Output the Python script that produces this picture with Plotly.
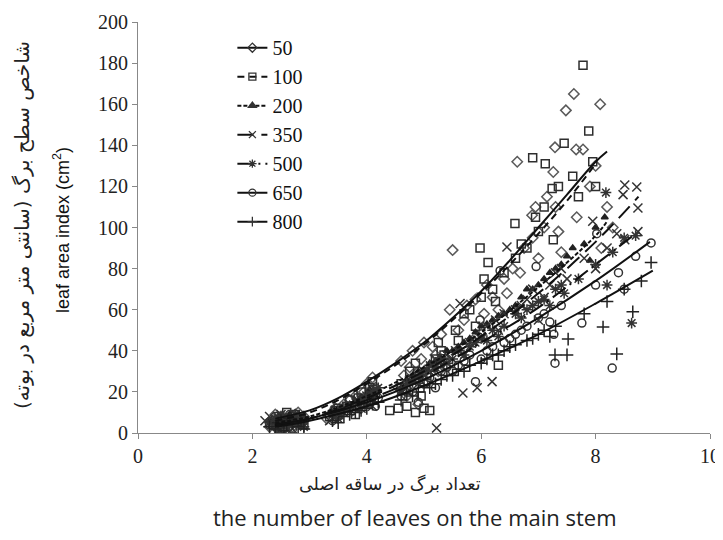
import plotly.graph_objects as go

# ---------------- data ----------------
series_names = ["50", "100", "200", "350", "500", "650", "800"]

# observed points (x = leaves on main stem, y = leaf area index)
pts_50 = [(2.35, 5), (2.5, 8), (2.6, 4), (2.75, 9), (2.85, 6), (2.45, 2), (2.3, 3), (2.4, 9),
          (2.55, 6), (2.65, 7), (2.7, 3), (2.9, 8), (2.8, 10),
          (3.4, 10), (3.6, 14), (3.8, 18), (4.0, 24), (4.1, 27), (3.9, 12), (3.5, 8), (3.3, 7),
          (3.45, 12), (3.7, 16), (3.75, 11), (3.95, 20), (4.05, 15), (4.15, 22),
          (4.6, 35), (4.8, 40), (4.9, 30), (5.0, 44), (5.2, 38), (5.3, 48), (4.7, 18), (4.9, 14),
          (4.55, 22), (4.65, 28), (4.75, 32), (4.95, 36), (5.05, 25), (5.15, 42), (5.25, 30), (5.35, 35),
          (5.5, 89), (5.45, 60), (5.7, 55), (5.9, 65), (6.1, 72), (6.3, 60), (6.0, 48),
          (5.6, 50), (5.75, 62), (5.85, 45), (6.05, 58), (6.2, 66), (6.4, 75), (6.45, 68),
          (6.63, 132), (6.89, 106), (6.68, 78), (6.9, 95), (7.1, 100), (7.3, 110), (7.0, 85),
          (7.4, 88), (7.26, 127), (7.29, 139), (6.55, 80), (6.75, 90), (6.95, 110), (7.15, 115), (7.35, 98),
          (7.48, 157), (7.62, 165), (8.08, 160), (7.66, 138), (7.78, 138), (7.67, 105), (8.2, 110),
          (7.9, 120), (8.1, 90), (8.3, 100), (8.0, 130)]

pts_100 = [(2.4, 6), (2.55, 3), (2.7, 8), (2.8, 5), (2.6, 10), (2.35, 4), (2.45, 8), (2.5, 2),
           (2.65, 6), (2.75, 9), (2.9, 4), (2.85, 7),
           (3.5, 12), (3.7, 16), (3.9, 20), (4.05, 22), (3.8, 9), (3.35, 8), (3.45, 11), (3.65, 13),
           (3.85, 17), (3.95, 14), (4.1, 25), (4.15, 19),
           (4.4, 11), (4.55, 12), (4.7, 13), (4.85, 10), (5.0, 12), (5.1, 11), (4.9, 26), (5.2, 36),
           (5.3, 40), (4.95, 18), (4.6, 24), (4.75, 30), (4.85, 34), (5.05, 28), (5.15, 32),
           (5.25, 44), (5.35, 38),
           (5.98, 90), (6.12, 83), (6.3, 33), (5.8, 60), (6.0, 66), (6.2, 70), (5.6, 45),
           (5.55, 50), (5.7, 58), (5.9, 52), (6.05, 75), (6.25, 64), (6.4, 78),
           (6.59, 102), (6.9, 134), (7.12, 131), (7.24, 119), (7.26, 94), (7.45, 141), (6.8, 90),
           (7.0, 98), (6.6, 85), (6.7, 92), (6.95, 105), (7.1, 110), (7.35, 120),
           (7.6, 125), (7.78, 179), (7.88, 147), (7.95, 132), (8.0, 120), (7.7, 115)]

pts_200 = [(2.4, 5), (2.6, 7), (2.8, 4), (2.5, 3), (2.3, 6), (2.45, 8), (2.55, 4), (2.65, 9),
           (2.75, 6), (2.85, 5), (2.9, 8),
           (3.5, 10), (3.8, 15), (4.0, 19), (4.1, 16), (3.4, 9), (3.55, 12), (3.7, 14), (3.9, 17),
           (4.05, 21), (4.15, 18),
           (4.7, 26), (4.9, 30), (5.1, 34), (5.3, 36), (4.6, 22), (4.8, 28), (5.0, 31), (5.2, 35),
           (5.4, 40),
           (5.6, 42), (5.8, 46), (6.0, 52), (6.2, 55), (6.4, 58), (5.5, 40), (5.7, 44), (5.9, 49),
           (6.1, 53), (6.3, 57), (6.5, 60),
           (6.6, 62), (6.8, 70), (7.0, 72), (7.2, 78), (7.4, 82), (6.7, 66), (6.9, 70), (7.1, 75),
           (7.3, 80), (7.5, 86),
           (7.6, 90), (7.8, 92), (8.0, 100), (8.16, 105), (7.9, 84)]

pts_350 = [(2.22, 6), (2.4, 4), (2.6, 7), (2.8, 5), (2.3, 8), (2.45, 3), (2.5, 9), (2.65, 5),
           (2.7, 2), (2.85, 8), (2.9, 4),
           (3.5, 9), (3.7, 14), (4.0, 18), (4.1, 13), (3.35, 6), (3.45, 11), (3.6, 10), (3.8, 16),
           (3.9, 12), (4.15, 21),
           (4.7, 22), (5.0, 28), (5.22, 2.4), (5.3, 33), (4.6, 20), (4.8, 26), (4.9, 24), (5.1, 30),
           (5.2, 36), (5.4, 38),
           (5.63, 63), (5.68, 19.5), (5.93, 22), (6.19, 25), (6.45, 90.5), (6.0, 47), (6.3, 50),
           (5.55, 40), (5.8, 44), (6.1, 52), (6.25, 55), (6.4, 58),
           (6.7, 62), (6.9, 70), (7.1, 66), (7.3, 78), (7.5, 75), (7.0, 55), (6.6, 60), (6.8, 65),
           (7.2, 72), (7.4, 80),
           (7.95, 103), (8.37, 97), (8.48, 116), (8.51, 120.7), (8.72, 119.7), (8.74, 109.5),
           (8.74, 98), (8.51, 94), (8.2, 90), (8.0, 80), (7.8, 85)]

pts_500 = [(2.5, 4), (2.7, 6), (2.4, 7), (2.3, 5), (2.45, 2), (2.55, 8), (2.65, 4), (2.75, 9),
           (2.85, 6), (2.9, 3),
           (3.6, 12), (3.9, 16), (4.1, 20), (3.4, 9), (3.5, 7), (3.7, 13), (3.8, 15), (4.0, 18),
           (4.2, 22),
           (4.8, 25), (5.0, 30), (5.2, 32), (4.6, 21), (4.7, 24), (4.9, 27), (5.1, 33), (5.3, 36),
           (5.4, 34),
           (5.7, 38), (5.9, 44), (6.1, 45), (6.4, 52), (5.5, 36), (5.6, 40), (5.8, 42), (6.0, 46),
           (6.2, 50), (6.3, 47),
           (6.6, 58), (6.9, 62), (7.1, 65), (7.3, 70), (7.45, 68), (6.7, 56), (6.8, 60), (7.0, 64),
           (7.2, 62), (7.4, 72),
           (7.7, 75), (8.0, 82), (8.18, 117), (8.3, 88), (8.5, 95), (8.63, 53.5), (8.7, 96), (8.2, 72)]

pts_650 = [(2.4, 3), (2.6, 5), (2.8, 7), (2.7, 2), (2.3, 4), (2.45, 6), (2.5, 8), (2.55, 2),
           (2.65, 9), (2.75, 5), (2.9, 6),
           (3.5, 8), (3.8, 13), (4.0, 15), (4.2, 17), (3.4, 6), (3.6, 10), (3.7, 12), (3.9, 14),
           (4.1, 18), (4.15, 13),
           (4.8, 20), (5.0, 24), (5.3, 30), (4.9, 15), (4.6, 18), (4.7, 21), (4.85, 26), (5.1, 27),
           (5.2, 22), (5.4, 32),
           (5.9, 25), (5.98, 55), (6.33, 79), (5.7, 35), (6.1, 40), (6.4, 44), (5.5, 30), (5.6, 33),
           (5.8, 38), (6.0, 36), (6.2, 42), (6.5, 46),
           (6.96, 81), (7.27, 48), (7.29, 34), (6.7, 50), (7.0, 56), (7.4, 62), (6.6, 48), (6.8, 52),
           (7.1, 58), (7.2, 54),
           (7.76, 53.5), (8.02, 97), (8.29, 31.6), (8.97, 92.5), (8.0, 72), (8.4, 78), (8.7, 86),
           (8.5, 70)]

pts_800 = [(2.4, 2), (2.6, 4), (2.8, 3), (2.5, 6), (2.3, 3), (2.45, 5), (2.55, 1), (2.65, 7),
           (2.7, 5), (2.85, 6), (2.9, 2),
           (3.6, 8), (3.9, 11), (4.1, 14), (3.4, 6), (3.5, 5), (3.7, 9), (3.8, 10), (4.0, 12),
           (4.2, 15),
           (4.8, 18), (5.1, 22), (5.3, 26), (4.6, 16), (4.7, 19), (4.9, 20), (5.0, 23), (5.2, 24),
           (5.4, 28),
           (5.7, 30), (6.0, 34), (6.3, 38), (6.5, 42), (5.5, 28), (5.6, 31), (5.8, 33), (6.1, 36),
           (6.2, 38), (6.4, 40),
           (6.8, 45), (7.0, 48), (7.29, 38), (7.5, 38), (7.52, 45.7), (7.3, 52), (6.6, 43),
           (6.9, 46), (7.1, 50), (7.2, 47),
           (7.8, 58), (8.13, 51.6), (8.37, 38.5), (8.65, 59), (8.97, 83), (8.5, 70), (8.8, 74),
           (8.2, 64)]

# fitted trend lines
fx_50 = [2.4, 3, 3.5, 4, 4.5, 5, 5.5, 6, 6.5, 7, 7.5, 8, 8.2]
fy_50 = [7, 11, 17, 25, 34, 44, 56, 69, 84, 100, 116, 132, 137]
fx_100 = [2.4, 3, 3.5, 4, 4.5, 5, 5.5, 6, 6.5, 7, 7.5, 8.0]
fy_100 = [6, 10, 16, 24, 33, 43, 55, 68, 82, 97, 113, 131]
fx_200 = [2.4, 3, 4, 5, 6, 7, 8, 8.2]
fy_200 = [5, 8, 18, 32, 49, 71, 96, 103]
fx_350 = [2.4, 3, 4, 5, 6, 7, 8, 8.75]
fy_350 = [4, 7, 17, 30, 47, 68, 93, 115]
fx_500 = [2.4, 3, 4, 5, 6, 7, 8, 8.7]
fy_500 = [4, 7, 16, 28, 44, 61, 82, 97]
fx_650 = [2.4, 3, 4, 5, 6, 7, 8, 8.95]
fy_650 = [4, 7, 15, 26, 40, 56, 74, 93]
fx_800 = [2.4, 3, 4, 5, 6, 7, 8, 9.0]
fy_800 = [3, 6, 13, 23, 35, 48, 63, 79]

# ---------------- styling ----------------
obs = {"50": pts_50, "100": pts_100, "200": pts_200, "350": pts_350,
       "500": pts_500, "650": pts_650, "800": pts_800}
fits = {"50": (fx_50, fy_50), "100": (fx_100, fy_100), "200": (fx_200, fy_200),
        "350": (fx_350, fy_350), "500": (fx_500, fy_500), "650": (fx_650, fy_650),
        "800": (fx_800, fy_800)}
symbols = {"50": "diamond-open", "100": "square-open", "200": "triangle-up",
           "350": "x-thin-open", "500": "asterisk-open", "650": "circle-open",
           "800": "cross-thin-open"}
dashes = {"50": "solid", "100": "7px,5px", "200": "4px,2px", "350": "16px,8px",
          "500": "16px,5px,2px,5px", "650": "solid", "800": "solid"}
mcolors = {"50": "#5a5a5a", "100": "#2e2e2e", "200": "#222222", "350": "#333333",
           "500": "#333333", "650": "#333333", "800": "#222222"}
msizes = {"50": 8, "100": 8, "200": 6, "350": 9, "500": 9, "650": 8, "800": 9}

fig = go.Figure()
for name in series_names:
    xs = [p[0] for p in obs[name]]
    ys = [p[1] for p in obs[name]]
    fig.add_trace(go.Scatter(
        x=xs, y=ys, mode="markers", showlegend=False, legendgroup=name,
        marker=dict(symbol=symbols[name], size=msizes[name], color=mcolors[name],
                    line=dict(width=1.5, color=mcolors[name])),
        hoverinfo="skip"))
for name in series_names:
    fx, fy = fits[name]
    fig.add_trace(go.Scatter(
        x=fx, y=fy, mode="lines", showlegend=False, legendgroup=name,
        line=dict(color="#111111", width=2, dash=dashes[name], shape="spline")))
    # legend entry (line with the marker in the middle)
    fig.add_trace(go.Scatter(
        x=[None], y=[None], mode="lines+markers", name=name, legendgroup=name,
        line=dict(color="#111111", width=2, dash=dashes[name]),
        marker=dict(symbol=symbols[name], size=7, color="#333333",
                    line=dict(width=1.3, color="#333333"))))

# The page body has an 8px margin, so the figure is sized/offset to compensate.
tick_font = dict(family="Liberation Serif", size=20, color="#222222")
fig.update_layout(
    width=715, height=532,
    margin=dict(l=130, r=13, t=14, b=107),
    paper_bgcolor="white", plot_bgcolor="white",
    showlegend=True,
    legend=dict(x=0.165, y=0.985, xanchor="left", yanchor="top",
                font=dict(family="Liberation Serif", size=20, color="#111111"),
                bgcolor="rgba(0,0,0,0)", tracegroupgap=0, traceorder="grouped",
                itemwidth=30),
    xaxis=dict(range=[0, 10], dtick=2, tick0=0, showgrid=False, zeroline=False,
               showline=True, linecolor="#888888", linewidth=1, automargin=False,
               ticks="outside", ticklen=5, tickcolor="#888888",
               tickfont=tick_font),
    yaxis=dict(range=[0, 200], dtick=20, tick0=0, showgrid=False, zeroline=False,
               showline=True, linecolor="#888888", linewidth=1, automargin=False,
               ticks="outside", ticklen=5, tickcolor="#888888",
               tickfont=tick_font),
    annotations=[
        dict(text="leaf area index (cm<sup>2</sup>)", xref="paper", yref="paper",
             x=(61 - 138) / 572, y=(433 - 230) / 411, xanchor="center", yanchor="middle",
             textangle=-90, showarrow=False,
             font=dict(family="Liberation Sans", size=18, color="#111111")),
        dict(text="شاخص سطح برگ (سانتی متر مربع در بوته)", xref="paper", yref="paper",
             x=(22 - 138) / 572, y=(433 - 225) / 411, xanchor="center", yanchor="middle",
             textangle=-90, showarrow=False,
             font=dict(family="DejaVu Sans", size=20, color="#222222")),
        dict(text="تعداد برگ در ساقه اصلی", xref="paper", yref="paper",
             x=(390 - 138) / 572, y=-(484 - 433) / 411, xanchor="center",
             yanchor="middle", showarrow=False,
             font=dict(family="DejaVu Sans", size=17.5, color="#222222")),
        dict(text="the number of leaves on the main stem", xref="paper", yref="paper",
             x=(415 - 138) / 572, y=-(517 - 433) / 411, xanchor="center",
             yanchor="middle", showarrow=False,
             font=dict(family="Open Sans", size=22, color="#222222")),
    ],
)

fig.write_html("out.html")
